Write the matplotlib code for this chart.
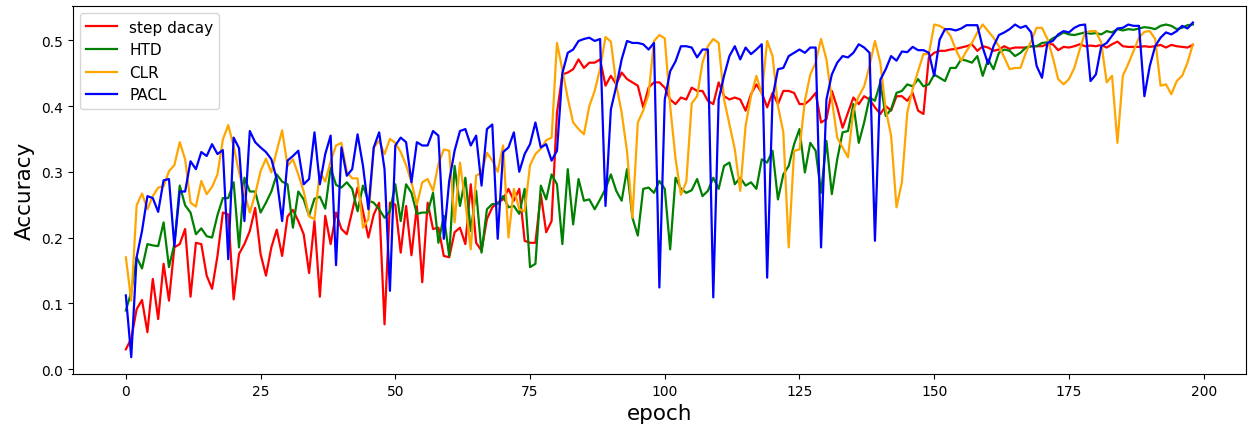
import numpy as np
import matplotlib
matplotlib.use("Agg")
import matplotlib.pyplot as plt

# accuracy per epoch
step_decay = [
    0.030, 0.046, 0.091, 0.105, 0.056, 0.137, 0.076, 0.160, 0.104, 0.185,
    0.190, 0.213, 0.110, 0.192, 0.190, 0.142, 0.122, 0.172, 0.238, 0.235,
    0.106, 0.175, 0.190, 0.210, 0.245, 0.175, 0.142, 0.185, 0.212, 0.172,
    0.232, 0.242, 0.225, 0.205, 0.146, 0.225, 0.110, 0.233, 0.190, 0.238,
    0.213, 0.205, 0.240, 0.276, 0.240, 0.200, 0.235, 0.253, 0.068, 0.253,
    0.250, 0.177, 0.248, 0.173, 0.248, 0.132, 0.253, 0.213, 0.215, 0.172,
    0.170, 0.208, 0.215, 0.190, 0.281, 0.192, 0.180, 0.228, 0.246, 0.253,
    0.258, 0.274, 0.256, 0.274, 0.195, 0.192, 0.192, 0.266, 0.208, 0.225,
    0.390, 0.448, 0.451, 0.456, 0.471, 0.458, 0.466, 0.466, 0.471, 0.431,
    0.446, 0.433, 0.451, 0.441, 0.436, 0.431, 0.398, 0.428, 0.436, 0.436,
    0.428, 0.410, 0.403, 0.413, 0.410, 0.428, 0.423, 0.423, 0.408, 0.403,
    0.436, 0.415, 0.410, 0.413, 0.410, 0.393, 0.418, 0.433, 0.420, 0.398,
    0.420, 0.403, 0.423, 0.423, 0.420, 0.403, 0.403, 0.410, 0.420, 0.375,
    0.380, 0.423, 0.398, 0.367, 0.390, 0.413, 0.403, 0.415, 0.410, 0.398,
    0.388, 0.400, 0.393, 0.415, 0.415, 0.408, 0.420, 0.393, 0.388, 0.474,
    0.481, 0.484, 0.484, 0.486, 0.487, 0.489, 0.491, 0.494, 0.484, 0.491,
    0.489, 0.484, 0.486, 0.491, 0.487, 0.489, 0.489, 0.489, 0.491, 0.491,
    0.491, 0.494, 0.494, 0.485, 0.490, 0.489, 0.491, 0.494, 0.491, 0.492,
    0.491, 0.493, 0.489, 0.494, 0.498, 0.491, 0.490, 0.490, 0.490, 0.491,
    0.490, 0.491, 0.493, 0.489, 0.493, 0.491, 0.490, 0.489, 0.493,
]

htd = [
    0.089, 0.117, 0.170, 0.153, 0.190, 0.188, 0.187, 0.223, 0.155, 0.190,
    0.279, 0.249, 0.238, 0.205, 0.214, 0.202, 0.200, 0.234, 0.260, 0.260,
    0.284, 0.185, 0.291, 0.270, 0.270, 0.238, 0.253, 0.270, 0.296, 0.285,
    0.281, 0.215, 0.270, 0.258, 0.233, 0.259, 0.262, 0.244, 0.306, 0.280,
    0.276, 0.284, 0.274, 0.240, 0.279, 0.256, 0.253, 0.243, 0.230, 0.240,
    0.281, 0.225, 0.281, 0.268, 0.236, 0.238, 0.238, 0.268, 0.192, 0.233,
    0.172, 0.309, 0.248, 0.291, 0.210, 0.271, 0.177, 0.243, 0.251, 0.251,
    0.263, 0.246, 0.248, 0.236, 0.274, 0.155, 0.160, 0.279, 0.258, 0.296,
    0.281, 0.190, 0.304, 0.220, 0.289, 0.256, 0.258, 0.243, 0.258, 0.274,
    0.296, 0.271, 0.256, 0.304, 0.230, 0.203, 0.274, 0.276, 0.268, 0.286,
    0.274, 0.182, 0.291, 0.274, 0.268, 0.272, 0.289, 0.263, 0.271, 0.291,
    0.274, 0.309, 0.314, 0.281, 0.291, 0.279, 0.284, 0.274, 0.319, 0.314,
    0.332, 0.258, 0.296, 0.309, 0.342, 0.365, 0.299, 0.344, 0.332, 0.268,
    0.347, 0.266, 0.319, 0.360, 0.362, 0.403, 0.344, 0.375, 0.413, 0.408,
    0.436, 0.385, 0.395, 0.420, 0.423, 0.433, 0.430, 0.441, 0.430, 0.433,
    0.448, 0.443, 0.438, 0.458, 0.458, 0.471, 0.469, 0.466, 0.476, 0.446,
    0.471, 0.456, 0.481, 0.486, 0.484, 0.476, 0.481, 0.489, 0.491, 0.491,
    0.496, 0.497, 0.503, 0.507, 0.512, 0.509, 0.508, 0.510, 0.512, 0.510,
    0.511, 0.509, 0.514, 0.512, 0.517, 0.515, 0.517, 0.516, 0.518, 0.520,
    0.519, 0.517, 0.522, 0.524, 0.522, 0.517, 0.519, 0.523, 0.524,
]

clr = [
    0.170, 0.104, 0.249, 0.267, 0.243, 0.263, 0.276, 0.278, 0.301, 0.310,
    0.345, 0.319, 0.253, 0.247, 0.286, 0.266, 0.277, 0.296, 0.349, 0.371,
    0.339, 0.299, 0.268, 0.238, 0.266, 0.301, 0.320, 0.299, 0.332, 0.363,
    0.309, 0.319, 0.296, 0.270, 0.232, 0.228, 0.300, 0.285, 0.316, 0.340,
    0.344, 0.300, 0.290, 0.290, 0.215, 0.228, 0.337, 0.347, 0.327, 0.350,
    0.344, 0.330, 0.310, 0.284, 0.250, 0.284, 0.289, 0.271, 0.312, 0.334,
    0.332, 0.223, 0.314, 0.253, 0.182, 0.294, 0.299, 0.329, 0.317, 0.300,
    0.340, 0.200, 0.274, 0.243, 0.240, 0.310, 0.327, 0.335, 0.348, 0.352,
    0.496, 0.455, 0.412, 0.375, 0.365, 0.357, 0.400, 0.423, 0.457, 0.505,
    0.498, 0.433, 0.390, 0.331, 0.230, 0.375, 0.393, 0.418, 0.499, 0.508,
    0.503, 0.400, 0.320, 0.265, 0.285, 0.404, 0.415, 0.466, 0.491, 0.502,
    0.496, 0.410, 0.372, 0.334, 0.271, 0.370, 0.415, 0.446, 0.418, 0.499,
    0.476, 0.400, 0.360, 0.185, 0.332, 0.334, 0.408, 0.448, 0.466, 0.502,
    0.471, 0.410, 0.352, 0.337, 0.322, 0.393, 0.415, 0.430, 0.461, 0.499,
    0.466, 0.395, 0.355, 0.246, 0.284, 0.390, 0.426, 0.453, 0.479, 0.479,
    0.524, 0.522, 0.517, 0.507, 0.486, 0.469, 0.484, 0.496, 0.512, 0.524,
    0.514, 0.504, 0.491, 0.474, 0.456, 0.458, 0.458, 0.481, 0.499, 0.519,
    0.519, 0.502, 0.474, 0.441, 0.433, 0.441, 0.458, 0.486, 0.512, 0.514,
    0.514, 0.496, 0.436, 0.446, 0.344, 0.446, 0.464, 0.484, 0.504, 0.513,
    0.514, 0.502, 0.431, 0.433, 0.418, 0.438, 0.446, 0.466, 0.494,
]

pacl = [
    0.112, 0.018, 0.170, 0.210, 0.263, 0.260, 0.239, 0.287, 0.289, 0.187,
    0.270, 0.270, 0.316, 0.304, 0.330, 0.324, 0.342, 0.327, 0.333, 0.167,
    0.352, 0.336, 0.225, 0.362, 0.345, 0.337, 0.330, 0.319, 0.289, 0.225,
    0.317, 0.324, 0.332, 0.281, 0.289, 0.360, 0.281, 0.327, 0.355, 0.158,
    0.337, 0.294, 0.304, 0.357, 0.309, 0.243, 0.337, 0.360, 0.304, 0.119,
    0.340, 0.352, 0.345, 0.284, 0.345, 0.340, 0.340, 0.362, 0.355, 0.198,
    0.286, 0.332, 0.362, 0.365, 0.340, 0.355, 0.279, 0.365, 0.372, 0.198,
    0.330, 0.337, 0.360, 0.300, 0.327, 0.342, 0.375, 0.337, 0.342, 0.317,
    0.332, 0.450, 0.481, 0.486, 0.499, 0.502, 0.504, 0.499, 0.502, 0.248,
    0.395, 0.430, 0.471, 0.499, 0.496, 0.496, 0.494, 0.486, 0.496, 0.124,
    0.410, 0.453, 0.468, 0.491, 0.491, 0.489, 0.474, 0.486, 0.486, 0.109,
    0.410, 0.446, 0.476, 0.491, 0.471, 0.489, 0.479, 0.486, 0.494, 0.139,
    0.413, 0.456, 0.458, 0.476, 0.481, 0.486, 0.481, 0.489, 0.489, 0.185,
    0.410, 0.448, 0.466, 0.476, 0.474, 0.481, 0.494, 0.489, 0.481, 0.195,
    0.440, 0.456, 0.476, 0.469, 0.483, 0.482, 0.490, 0.485, 0.485, 0.481,
    0.446, 0.501, 0.517, 0.517, 0.515, 0.518, 0.523, 0.523, 0.523, 0.489,
    0.464, 0.491, 0.508, 0.512, 0.517, 0.524, 0.519, 0.522, 0.512, 0.461,
    0.443, 0.496, 0.499, 0.509, 0.514, 0.512, 0.519, 0.523, 0.524, 0.438,
    0.448, 0.491, 0.496, 0.507, 0.518, 0.519, 0.524, 0.522, 0.522, 0.415,
    0.461, 0.491, 0.504, 0.512, 0.509, 0.514, 0.522, 0.518, 0.527,
]

labels = ["step dacay", "HTD", "CLR", "PACL"]
colors = ["red", "green", "orange", "blue"]

fig = plt.figure(figsize=(12.5, 4.27), dpi=100)
ax = fig.add_subplot(111)
fig.subplots_adjust(left=0.058, right=0.997, top=0.984, bottom=0.122)

for series, label, color in zip([step_decay, htd, clr, pacl], labels, colors):
    epochs = np.arange(len(series))
    ax.plot(epochs, series, color=color, linewidth=1.6, label=label)

ax.set_xticks([0, 25, 50, 75, 100, 125, 150, 175, 200])
ax.set_yticks([0.0, 0.1, 0.2, 0.3, 0.4, 0.5])
ax.tick_params(labelsize=10)
ax.set_xlabel("epoch", fontsize=15.5)
ax.set_ylabel("Accuracy", fontsize=15.5)
ax.legend(loc="upper left", fontsize=11)

fig.savefig("out.png", dpi=100)
